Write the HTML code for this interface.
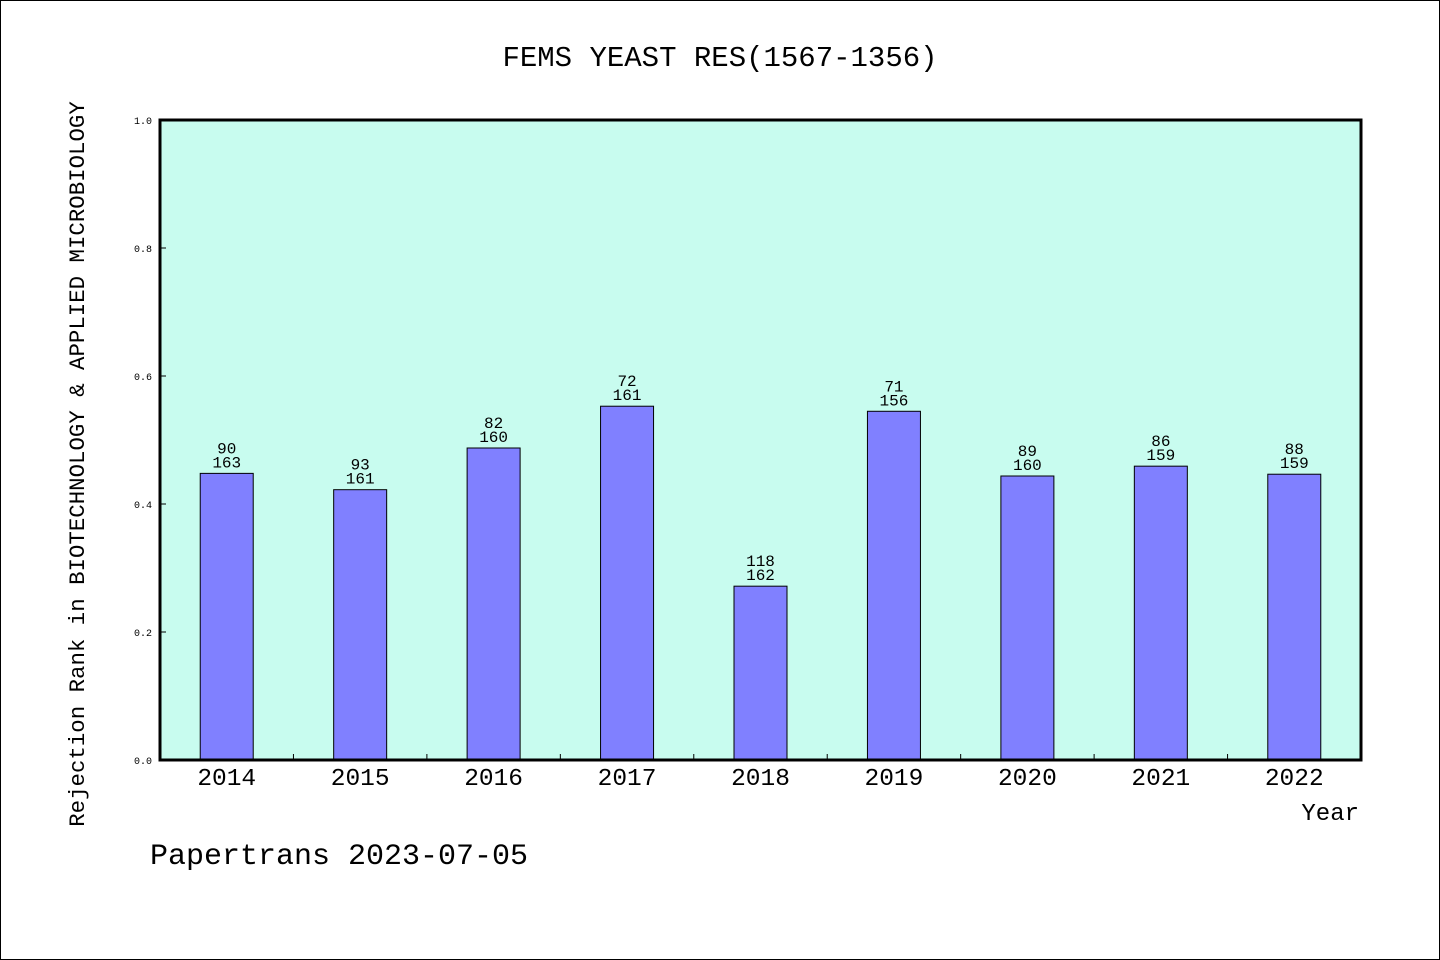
<!DOCTYPE html>
<html><head><meta charset="utf-8"><style>
body{margin:0;background:#fff}
svg{display:block}
text{font-family:"Liberation Mono","WenQuanYi Zen Hei",monospace;fill:#000}
</style></head><body>
<svg id="chart" width="1440" height="960" viewBox="0 0 1440 960" xmlns="http://www.w3.org/2000/svg">
<rect x="0.5" y="0.5" width="1439" height="959" fill="#fff" stroke="#000"/>
<text x="720" y="66" font-size="29" text-anchor="middle">FEMS YEAST RES(1567-1356)</text>
<rect x="160" y="120" width="1201" height="640" fill="#c8fcef"/>
<g id="bars"></g>
<g id="yticks"></g>
<g id="xticks"></g>
<rect x="160" y="120" width="1201" height="640" fill="none" stroke="#000" stroke-width="3"/>
<text x="1359" y="820" font-size="24" text-anchor="end">Year</text>
<text transform="translate(84,464) rotate(-90)" font-size="22.4" text-anchor="middle">Rejection Rank in BIOTECHNOLOGY &amp; APPLIED MICROBIOLOGY</text>
<text x="150" y="864" font-size="30">Papertrans 2023-07-05</text>
</svg>
<script>
const years=["2014","2015","2016","2017","2018","2019","2020","2021","2022"];
const ranks=[90,93,82,72,118,71,89,86,88];
const totals=[163,161,160,161,162,156,160,159,159];
const yTicks=[0.0,0.2,0.4,0.6,0.8,1.0];
const NS="http://www.w3.org/2000/svg";
const X0=160,X1=1361,Y0=760,Y1=120;
const band=(X1-X0)/years.length;
const xc=i=>X0+band*(i+0.5);
const y=v=>Y0-(v-0)/(1-0)*(Y0-Y1);
function mk(tag,attrs,parent,txt){const e=document.createElementNS(NS,tag);for(const k in attrs)e.setAttribute(k,attrs[k]);if(txt!==undefined)e.textContent=txt;document.getElementById(parent).appendChild(e);return e;}
years.forEach((yr,i)=>{
  const v=1-ranks[i]/totals[i];
  const b=mk('rect',{x:xc(i)-26.5,y:y(v),width:53,height:Y0-y(v),fill:'#8080ff',stroke:'#000','stroke-width':1},'bars');
  
  
  const t1=mk('text',{x:xc(i),y:y(v)-20,'font-size':16,'text-anchor':'middle'},'bars',ranks[i]);
  
  
  const t2=mk('text',{x:xc(i),y:y(v)-6,'font-size':16,'text-anchor':'middle'},'bars',totals[i]);
  
  
  const xl=mk('text',{x:xc(i),y:785,'font-size':24.5,'text-anchor':'middle'},'xticks',yr);
  
  
  if(i>0){
    const tk=mk('line',{x1:X0+band*i,x2:X0+band*i,y1:Y0,y2:Y0-6,stroke:'#000','stroke-width':1},'xticks');
    
    
  }
});
yTicks.forEach(v=>{
  const tk=mk('line',{x1:X0,x2:X0+6,y1:y(v),y2:y(v),stroke:'#000','stroke-width':1},'yticks');
  
  
  const tl=mk('text',{x:152,y:y(v)+4,'font-size':10,'text-anchor':'end'},'yticks',v.toFixed(1));
  
  
});
</script>
</body></html>
